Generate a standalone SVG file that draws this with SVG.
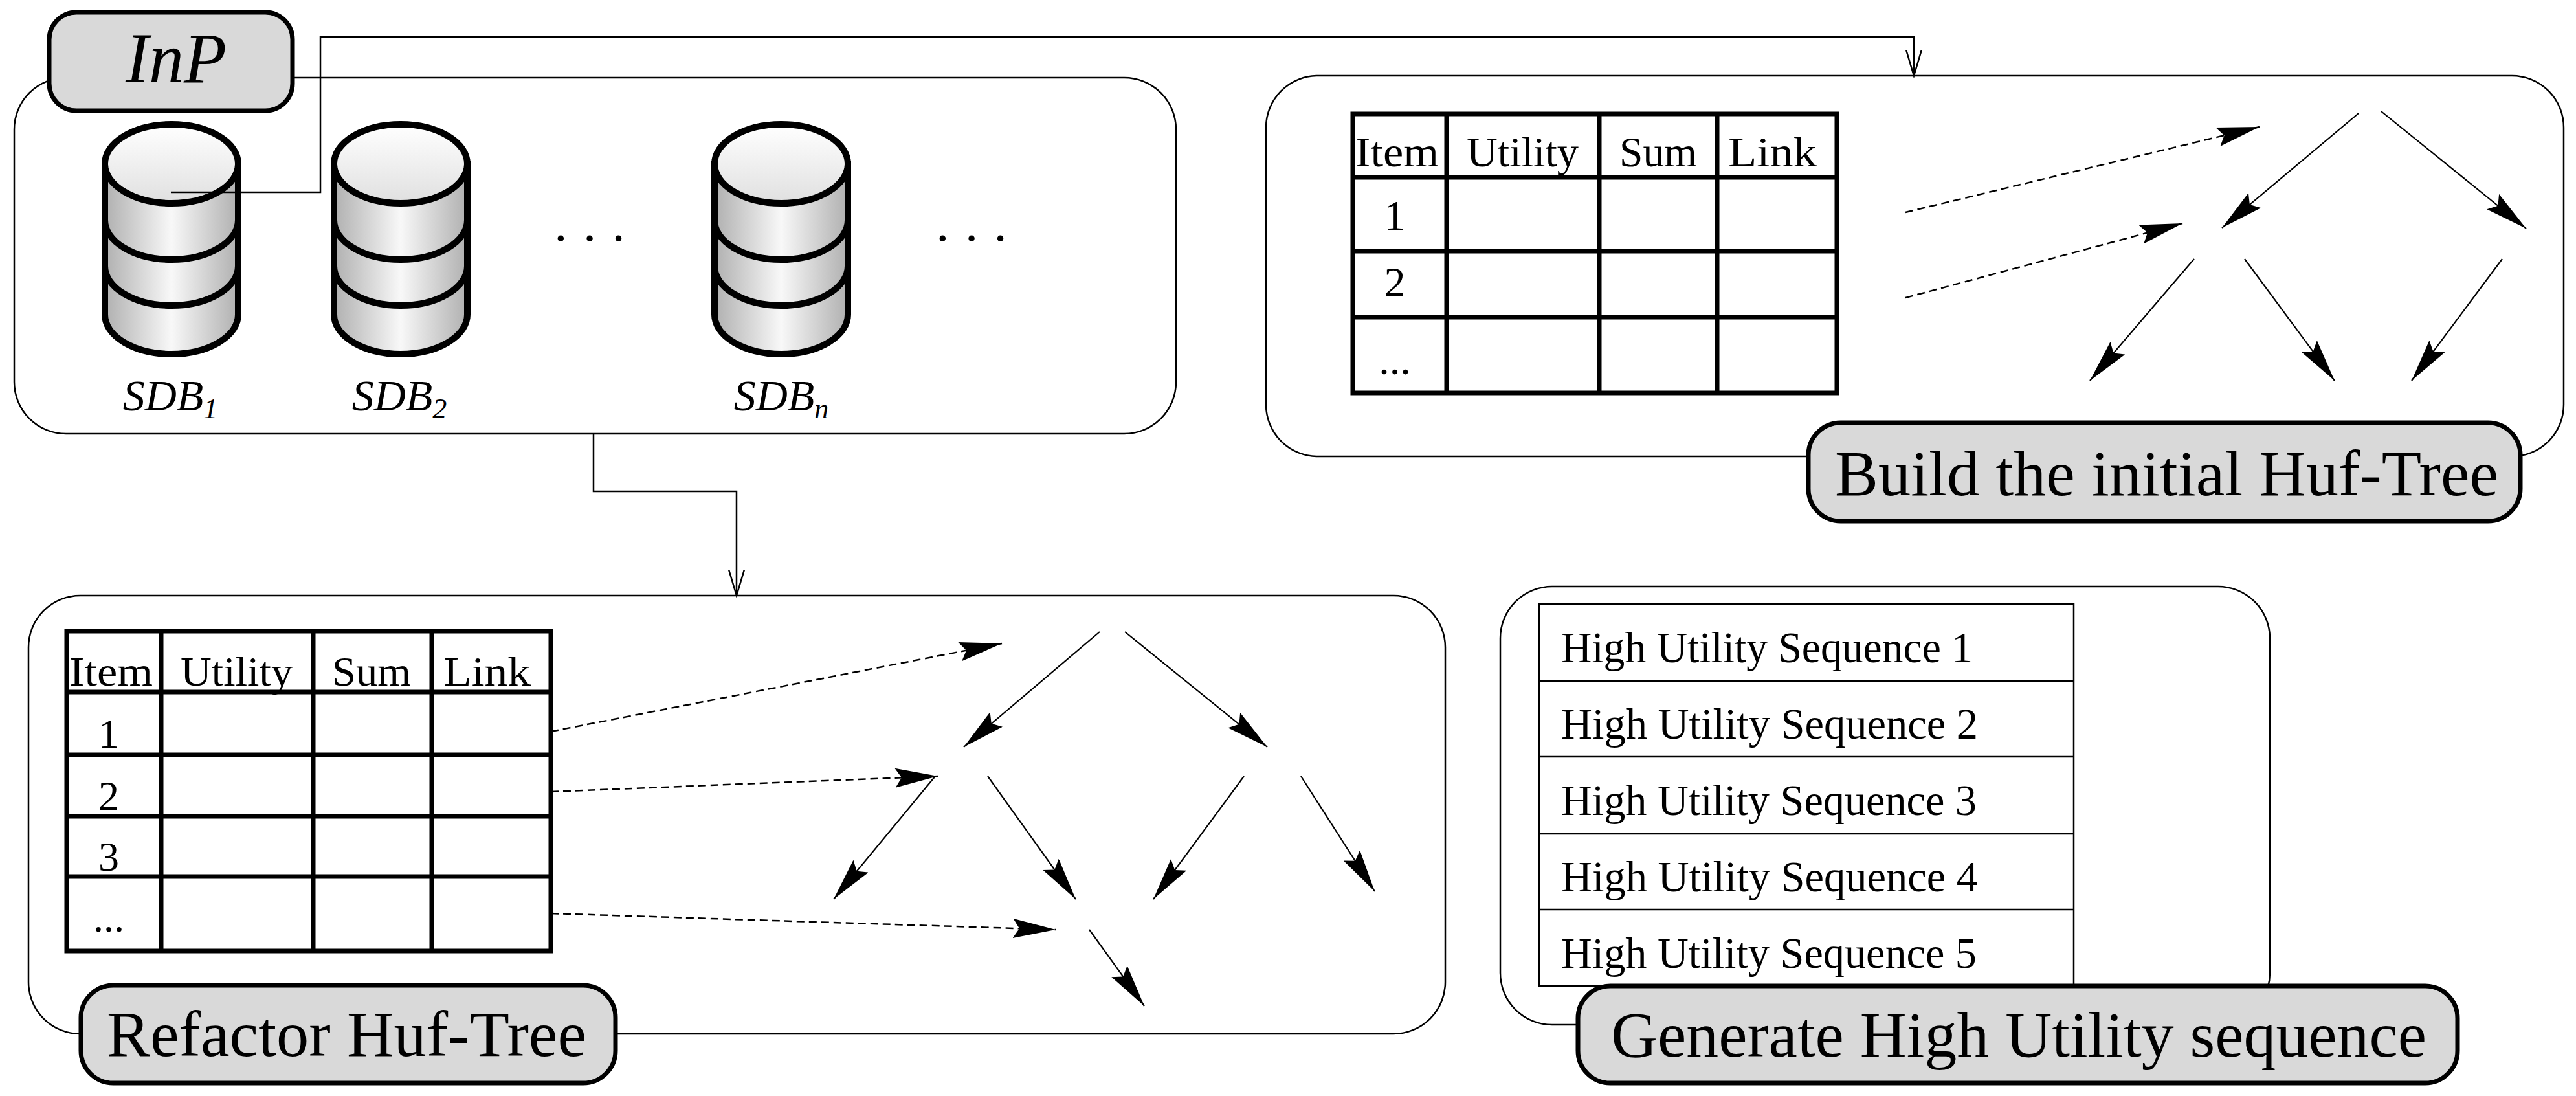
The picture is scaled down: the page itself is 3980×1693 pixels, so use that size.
<svg xmlns="http://www.w3.org/2000/svg" width="3980" height="1693" viewBox="0 0 3980 1693">
<defs>
<linearGradient id="side" x1="0" y1="0" x2="1" y2="0"><stop offset="0" stop-color="#b0b0b0"/><stop offset="0.5" stop-color="#f8f8f8"/><stop offset="1" stop-color="#b0b0b0"/></linearGradient>
<linearGradient id="top" x1="0" y1="0" x2="0" y2="1"><stop offset="0" stop-color="#ffffff"/><stop offset="1" stop-color="#e0e0e0"/></linearGradient>
<marker id="fa" markerUnits="userSpaceOnUse" markerWidth="75" markerHeight="34" refX="66" refY="15" orient="auto"><path d="M0,0 L66,15 L0,30 L10,15 z" fill="#000"/></marker>
<marker id="oa" markerUnits="userSpaceOnUse" markerWidth="50" markerHeight="30" refX="40" refY="13" orient="auto"><path d="M0,1 L40,13 L0,25" fill="none" stroke="#000" stroke-width="2.5"/></marker>
<g id="cyl"><path d="M-103,253 L-103,486 A103,61 0 0 0 103,486 L103,253 z" fill="url(#side)" stroke="#000" stroke-width="10"/><ellipse cx="0" cy="253" rx="103" ry="61" fill="url(#top)" stroke="#000" stroke-width="10"/><path d="M-103,340 A103,61 0 0 0 103,340 M-103,411 A103,61 0 0 0 103,411" fill="none" stroke="#000" stroke-width="10"/></g>
</defs>
<style>
.panel{fill:#fff;stroke:#000;stroke-width:2.5}
.lab{fill:#d9d9d9;stroke:#000;stroke-width:7}
.t{font-family:"Liberation Serif",serif;fill:#000}
.tb{stroke:#000;stroke-width:7;fill:none}
.thin{stroke:#000;stroke-width:2.5;fill:none}
.sol{stroke:#000;stroke-width:2.2;fill:none;marker-end:url(#fa)}
.das{stroke:#000;stroke-width:2.5;fill:none;stroke-dasharray:12 7;marker-end:url(#fa)}
</style>
<rect width="3980" height="1693" fill="#fff"/>
<g id="input">
<rect class="panel" x="22" y="120" width="1795" height="550" rx="80"/>
<rect class="lab" x="76" y="19" width="376" height="152" rx="42"/>
<text class="t" x="194" y="127" font-size="110" font-style="italic" textLength="156" lengthAdjust="spacingAndGlyphs">InP</text>
<use href="#cyl" x="265" y="0"/>
<use href="#cyl" x="619" y="0"/>
<use href="#cyl" x="1207" y="0"/>
<text class="t" x="920" y="395" font-size="80" text-anchor="middle" letter-spacing="18">···</text>
<text class="t" x="1510" y="395" font-size="80" text-anchor="middle" letter-spacing="18">···</text>
<text class="t" x="263" y="634" font-size="68" font-style="italic" text-anchor="middle">SDB<tspan font-size="44" dy="12">1</tspan></text>
<text class="t" x="617" y="634" font-size="68" font-style="italic" text-anchor="middle">SDB<tspan font-size="44" dy="12">2</tspan></text>
<text class="t" x="1207" y="634" font-size="68" font-style="italic" text-anchor="middle">SDB<tspan font-size="44" dy="12">n</tspan></text>
</g>
<g id="build">
<rect class="panel" x="1956" y="117" width="2005" height="588" rx="80"/>
<rect x="2090" y="176" width="748" height="431" fill="#fff"/>
<path class="tb" d="M2090,176 H2838 V607 H2090 Z M2090,274 H2838 M2090,388 H2838 M2090,490 H2838 M2235,176 V607 M2471,176 V607 M2653,176 V607"/>
<g class="t" font-size="66" lengthAdjust="spacingAndGlyphs">
<text x="2094" y="257" textLength="129" lengthAdjust="spacingAndGlyphs">Item</text><text x="2266" y="257" textLength="173" lengthAdjust="spacingAndGlyphs">Utility</text><text x="2502" y="257" textLength="120" lengthAdjust="spacingAndGlyphs">Sum</text><text x="2670" y="257" textLength="137" lengthAdjust="spacingAndGlyphs">Link</text>
<text x="2155" y="355" text-anchor="middle">1</text><text x="2155" y="458" text-anchor="middle">2</text><text x="2155" y="578" text-anchor="middle">...</text>
</g>
<rect class="lab" x="2794" y="653" width="1100" height="152" rx="50"/>
<text class="t" x="2835" y="765" font-size="100" textLength="1025" lengthAdjust="spacingAndGlyphs">Build the initial Huf-Tree</text>
</g>
<g id="refactor">
<rect class="panel" x="44" y="920" width="2189" height="677" rx="80"/>
<rect x="103" y="975" width="748" height="494" fill="#fff"/>
<path class="tb" d="M103,975 H851 V1469 H103 Z M103,1069 H851 M103,1166 H851 M103,1261 H851 M103,1354 H851 M249,975 V1469 M484,975 V1469 M667,975 V1469"/>
<g class="t" font-size="64">
<text x="107" y="1059" textLength="129" lengthAdjust="spacingAndGlyphs">Item</text><text x="279" y="1059" textLength="173" lengthAdjust="spacingAndGlyphs">Utility</text><text x="513" y="1059" textLength="122" lengthAdjust="spacingAndGlyphs">Sum</text><text x="685" y="1059" textLength="135" lengthAdjust="spacingAndGlyphs">Link</text>
<text x="168" y="1155" text-anchor="middle">1</text><text x="168" y="1251" text-anchor="middle">2</text><text x="168" y="1345" text-anchor="middle">3</text><text x="168" y="1439" text-anchor="middle">...</text>
</g>
<rect class="lab" x="125" y="1522" width="826" height="151" rx="50"/>
<text class="t" x="165" y="1631" font-size="100" textLength="741" lengthAdjust="spacingAndGlyphs">Refactor Huf-Tree</text>
</g>
<g id="generate">
<rect class="panel" x="2318" y="906" width="1189" height="677" rx="80"/>
<rect x="2378" y="933" width="826" height="590" fill="#fff"/>
<path class="thin" d="M2378,933 H3204 V1523 H2378 Z M2378,1052 H3204 M2378,1169 H3204 M2378,1288 H3204 M2378,1405 H3204"/>
<g class="t" font-size="68">
<text x="2412" y="1023" textLength="636" lengthAdjust="spacingAndGlyphs">High Utility Sequence 1</text>
<text x="2412" y="1141" textLength="644" lengthAdjust="spacingAndGlyphs">High Utility Sequence 2</text>
<text x="2412" y="1259" textLength="642" lengthAdjust="spacingAndGlyphs">High Utility Sequence 3</text>
<text x="2412" y="1377" textLength="644" lengthAdjust="spacingAndGlyphs">High Utility Sequence 4</text>
<text x="2412" y="1495" textLength="642" lengthAdjust="spacingAndGlyphs">High Utility Sequence 5</text>
</g>
<rect class="lab" x="2438" y="1523" width="1359" height="150" rx="50"/>
<text class="t" x="2489" y="1632" font-size="100" textLength="1260" lengthAdjust="spacingAndGlyphs">Generate High Utility sequence</text>
</g>
<g id="connectors">
<path class="thin" d="M264,297 H495 V57 H2957 V117" marker-end="url(#oa)"/>
<path class="thin" d="M917,670 V759 H1138 V920" marker-end="url(#oa)"/>
<path class="das" d="M2944,328 L3491,196"/>
<path class="das" d="M2944,460 L3372,345"/>
<path class="sol" d="M3644,175 L3433,352"/>
<path class="sol" d="M3679,172 L3903,353"/>
<path class="sol" d="M3390,400 L3229,588"/>
<path class="sol" d="M3468,400 L3607,588"/>
<path class="sol" d="M3866,400 L3726,588"/>
<path class="das" d="M851,1130 L1548,994"/>
<path class="das" d="M851,1223 L1449,1199"/>
<path class="das" d="M851,1411 L1631,1436"/>
<path class="sol" d="M1699,976 L1489,1154"/>
<path class="sol" d="M1738,976 L1958,1154"/>
<path class="sol" d="M1445,1199 L1288,1389"/>
<path class="sol" d="M1526,1199 L1662,1389"/>
<path class="sol" d="M1922,1199 L1782,1389"/>
<path class="sol" d="M2010,1199 L2124,1377"/>
<path class="sol" d="M1683,1436 L1768,1554"/>
</g>
</svg>
